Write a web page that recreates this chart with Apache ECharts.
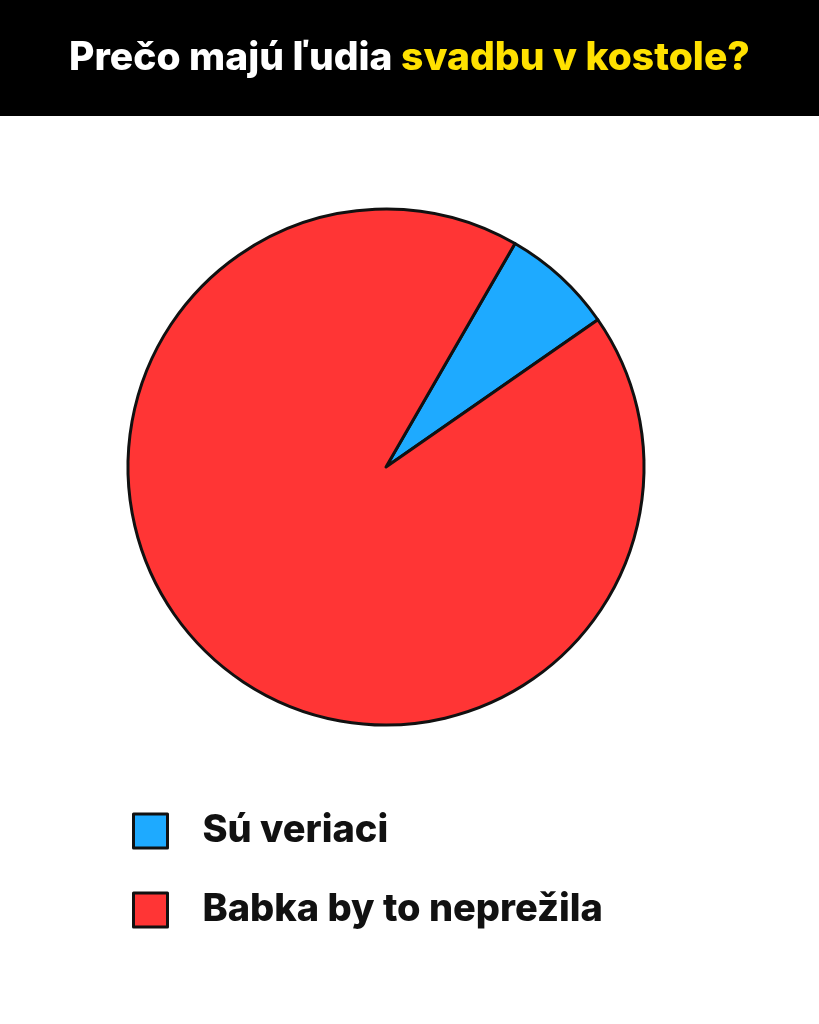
<!DOCTYPE html>
<html><head><meta charset="utf-8">
<script src="https://cdn.jsdelivr.net/npm/echarts@6/dist/echarts.min.js"></script>
<style>html,body{margin:0;padding:0;background:#fff}#c{width:819px;height:1024px}</style>
</head><body><div id="c"></div>
<script>
const categories = ['Sú veriaci', 'Babka by to neprežila'];
const values = [7, 93];
const colors = ['#1EAAFF', '#FF3535'];
const titleWhite = 'Prečo majú ľudia ';
const titleYellow = 'svadbu v kostole?';

const chart = echarts.init(document.getElementById('c'), null, {renderer: 'canvas'});
chart.setOption({
  backgroundColor: '#ffffff',
  animation: false,
  graphic: [
    {type: 'rect', left: 0, top: 0, shape: {width: 819, height: 116}, style: {fill: '#000'}, z: 0}
  ],
  title: {
    text: '{w|' + titleWhite + '}{y|' + titleYellow + '}',
    left: 'center',
    top: 39,
    padding: 0,
    textStyle: {
      rich: {
        w: {color: '#ffffff', fontSize: 39, fontWeight: 800, fontFamily: 'Inter'},
        y: {color: '#FFE100', fontSize: 39, fontWeight: 800, fontFamily: 'Inter'}
      }
    },
    z: 10
  },
  legend: {
    orient: 'vertical',
    left: 132,
    top: 812,
    padding: 0,
    icon: 'rect',
    itemWidth: 34,
    itemHeight: 34,
    itemGap: 41,
    itemStyle: {borderColor: '#111', borderWidth: 3},
    textStyle: {fontSize: 38, lineHeight: 34, fontWeight: 800, fontFamily: 'Inter', color: '#111', padding: [0, 0, 0, 30]},
    data: categories
  },
  series: [{
    type: 'pie',
    center: [386, 467],
    radius: 258,
    startAngle: 60,
    clockwise: true,
    label: {show: false},
    labelLine: {show: false},
    emphasis: {disabled: true},
    itemStyle: {borderColor: '#111', borderWidth: 3},
    data: categories.map((n, i) => ({name: n, value: values[i], itemStyle: {color: colors[i]}}))
  }]
});
</script></body></html>
